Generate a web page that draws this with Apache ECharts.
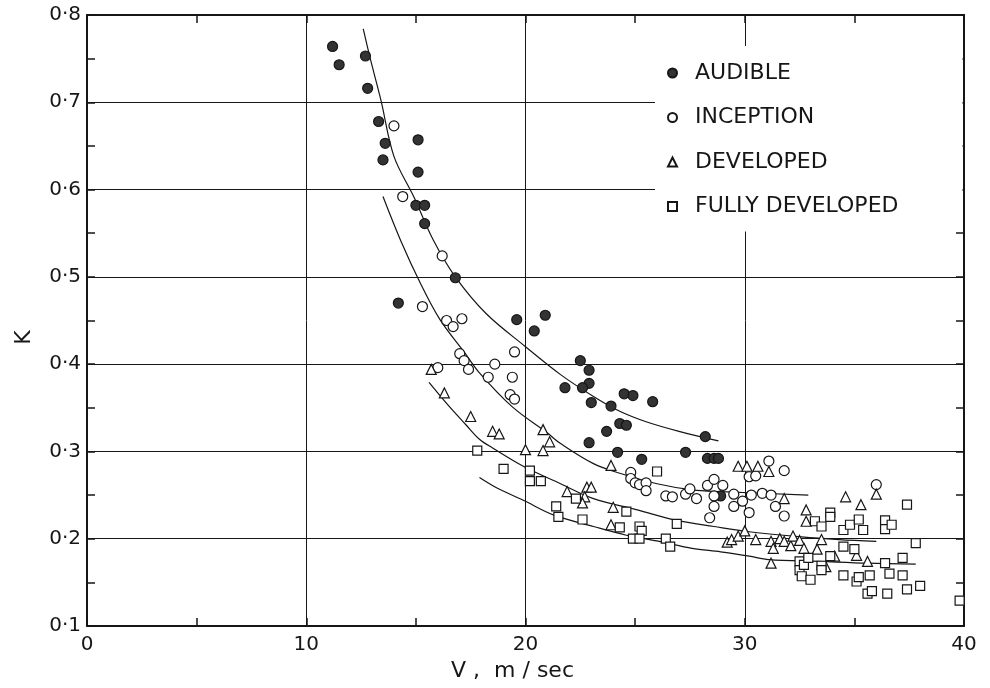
<!DOCTYPE html>
<html>
<head>
<meta charset="utf-8">
<script src="https://cdn.jsdelivr.net/npm/echarts@6/dist/echarts.min.js"></script>
<style>
  html, body { margin: 0; padding: 0; background: #fff; }
  #main { width: 990px; height: 688px; }
</style>
</head>
<body>
<div id="main"></div>
<script>
// axis ranges / tick labels
const xTicks = [0, 10, 20, 30, 40];
const yTicks = [0.1, 0.2, 0.3, 0.4, 0.5, 0.6, 0.7, 0.8];

// measured points [V (m/sec), K]
const audible = [
  [11.2, 0.764], [11.5, 0.743], [12.7, 0.753], [12.8, 0.716], [13.3, 0.678], [13.6, 0.653],
  [13.5, 0.634], [15.1, 0.657], [15.1, 0.620], [15.0, 0.582], [15.4, 0.582], [15.4, 0.561],
  [16.8, 0.499], [14.2, 0.470], [19.6, 0.451], [20.9, 0.456], [20.4, 0.438], [21.8, 0.373],
  [22.5, 0.404], [22.9, 0.393], [22.9, 0.378], [22.6, 0.373], [23.0, 0.356], [23.9, 0.352],
  [24.5, 0.366], [24.9, 0.364], [25.8, 0.357], [24.3, 0.332], [24.6, 0.330], [23.7, 0.323],
  [22.9, 0.310], [24.2, 0.299], [25.3, 0.291], [27.3, 0.299], [28.3, 0.292], [28.6, 0.292],
  [28.8, 0.292], [28.2, 0.317], [28.9, 0.249]
];
const inception = [
  [14.0, 0.673], [14.4, 0.592], [16.2, 0.524], [15.3, 0.466], [16.4, 0.450], [16.7, 0.443],
  [17.1, 0.452], [19.5, 0.414], [17.0, 0.412], [17.2, 0.404], [17.4, 0.394], [16.0, 0.396],
  [18.6, 0.400], [18.3, 0.385], [19.4, 0.385], [19.3, 0.365], [19.5, 0.360], [24.8, 0.276],
  [24.8, 0.269], [25.0, 0.264], [25.2, 0.262], [25.5, 0.264], [25.5, 0.255], [26.4, 0.249],
  [26.7, 0.248], [27.3, 0.251], [27.5, 0.257], [27.8, 0.246], [28.3, 0.261], [28.6, 0.268],
  [29.0, 0.261], [28.6, 0.249], [28.6, 0.237], [28.4, 0.224], [29.5, 0.251], [29.9, 0.243],
  [29.5, 0.237], [30.2, 0.230], [30.2, 0.271], [30.5, 0.272], [31.1, 0.289], [31.8, 0.278],
  [30.3, 0.250], [30.8, 0.252], [31.2, 0.250], [31.4, 0.237], [31.8, 0.226], [36.0, 0.262]
];
const developed = [
  [15.7, 0.394], [16.3, 0.367], [17.5, 0.340], [18.5, 0.323], [18.8, 0.320], [20.8, 0.325],
  [20.0, 0.302], [20.8, 0.301], [21.1, 0.311], [21.9, 0.254], [23.9, 0.284], [22.8, 0.259],
  [23.0, 0.259], [22.7, 0.248], [22.6, 0.241], [24.0, 0.236], [23.9, 0.216], [29.2, 0.196],
  [29.4, 0.199], [29.7, 0.203], [30.0, 0.209], [29.7, 0.283], [30.1, 0.283], [30.6, 0.283],
  [31.1, 0.277], [31.8, 0.246], [32.8, 0.233], [32.8, 0.220], [34.6, 0.248], [35.3, 0.239],
  [36.0, 0.251], [30.5, 0.199], [31.2, 0.197], [31.3, 0.189], [31.2, 0.172], [31.6, 0.200],
  [31.8, 0.197], [32.1, 0.192], [32.2, 0.203], [32.5, 0.198], [32.7, 0.189], [33.3, 0.188],
  [33.5, 0.199], [34.1, 0.180], [33.7, 0.168], [35.1, 0.181], [35.6, 0.174]
];
const fullyDeveloped = [
  [17.8, 0.301], [19.0, 0.280], [20.2, 0.278], [20.2, 0.266], [20.7, 0.266], [21.4, 0.237],
  [21.5, 0.225], [26.0, 0.277], [22.3, 0.246], [22.6, 0.222], [24.6, 0.231], [24.3, 0.213],
  [25.2, 0.214], [25.3, 0.209], [24.9, 0.200], [25.2, 0.200], [26.4, 0.200], [26.6, 0.191],
  [26.9, 0.217], [32.5, 0.174], [32.5, 0.164], [32.6, 0.157], [33.0, 0.153], [32.7, 0.170],
  [32.9, 0.178], [33.9, 0.230], [33.9, 0.225], [33.2, 0.220], [33.5, 0.214], [34.5, 0.210],
  [34.8, 0.216], [35.2, 0.222], [35.4, 0.210], [36.4, 0.221], [36.4, 0.211], [36.7, 0.216],
  [37.4, 0.239], [34.5, 0.191], [35.0, 0.188], [33.9, 0.180], [33.5, 0.169], [33.5, 0.164],
  [34.5, 0.158], [35.1, 0.151], [35.2, 0.156], [35.7, 0.158], [36.4, 0.172], [36.6, 0.160],
  [37.2, 0.178], [37.2, 0.158], [37.8, 0.195], [35.6, 0.137], [35.8, 0.140], [36.5, 0.137],
  [37.4, 0.142], [38.0, 0.146], [39.8, 0.129]
];

// hand-drawn fit curves
const curveAudible = [
  [12.6, 0.784], [12.9, 0.752], [13.4, 0.703], [14.0, 0.638], [14.9, 0.592], [15.8, 0.542],
  [16.8, 0.500], [18.2, 0.458], [20.0, 0.420], [21.6, 0.388], [23.1, 0.363], [24.3, 0.346],
  [25.5, 0.334], [27.0, 0.323], [28.8, 0.312]
];
const curveInception = [
  [13.5, 0.592], [14.3, 0.542], [15.2, 0.493], [16.1, 0.451], [17.2, 0.414], [17.9, 0.390],
  [19.4, 0.351], [21.0, 0.321], [21.6, 0.309], [23.1, 0.286], [24.3, 0.275], [26.0, 0.263],
  [27.6, 0.256], [28.9, 0.254], [32.9, 0.250]
];
const curveDeveloped = [
  [15.6, 0.379], [16.4, 0.355], [17.3, 0.330], [17.9, 0.314], [18.5, 0.304], [19.9, 0.283],
  [21.6, 0.263], [23.1, 0.246], [25.1, 0.233], [26.9, 0.221], [28.6, 0.214], [30.2, 0.208],
  [32.6, 0.202], [34.3, 0.199], [36.0, 0.197]
];
const curveFully = [
  [17.9, 0.270], [18.7, 0.258], [19.9, 0.244], [21.3, 0.227], [23.1, 0.214], [24.6, 0.204],
  [26.1, 0.197], [27.6, 0.189], [28.9, 0.185], [30.2, 0.180], [31.1, 0.176], [33.4, 0.174],
  [35.6, 0.172], [37.8, 0.171]
];

const FONT = 'DejaVu Sans';
const INK = '#161616';

const myChart = echarts.init(document.getElementById('main'));

function curve(data) {
  return {
    type: 'line',
    data: data,
    smooth: 0.35,
    symbol: 'none',
    silent: true,
    z: 2,
    lineStyle: { color: INK, width: 1.2 }
  };
}

function scatter(name, data, symbol, size, fill) {
  return {
    name: name,
    type: 'scatter',
    data: data,
    symbol: symbol,
    symbolSize: size,
    z: 3,
    itemStyle: { color: fill, borderColor: INK, borderWidth: 1.2, opacity: 1 }
  };
}

// ticks point into the plot on every side; onZero off so the right axis stays on the right
const lineOut = { show: true, onZero: false, lineStyle: { color: INK, width: 2 } };
const tickIn = { show: true, inside: true, length: 8, lineStyle: { color: INK, width: 1.5 } };
const minorIn = { show: true, splitNumber: 2, length: 8, lineStyle: { color: INK, width: 1.5 } };

const sideAxis = {
  axisLine: lineOut,
  axisTick: tickIn,
  minorTick: minorIn,
  axisLabel: { show: false },
  splitLine: { show: false }
};

const option = {
  backgroundColor: '#fff',
  animation: false,
  grid: { left: 87, right: 26, top: 15, bottom: 62 },
  legend: {
    orient: 'vertical',
    left: 655,
    top: 46,
    padding: [16, 64, 14, 12],
    backgroundColor: '#fff',
    itemWidth: 9,
    itemHeight: 9,
    itemGap: 22.5,
    data: ['AUDIBLE', 'INCEPTION', 'DEVELOPED', 'FULLY DEVELOPED'],
    textStyle: { fontFamily: FONT, fontSize: 22, color: INK, padding: [0, 0, 0, 13] }
  },
  xAxis: [
    {
      type: 'value',
      min: xTicks[0],
      max: xTicks[xTicks.length - 1],
      interval: 10,
      position: 'bottom',
      name: 'V ,  m / sec',
      nameLocation: 'middle',
      nameGap: 34,
      nameTextStyle: { fontFamily: FONT, fontSize: 22, color: INK, padding: [0, 26, 0, 0] },
      axisLine: lineOut,
      axisTick: tickIn,
      minorTick: minorIn,
      axisLabel: { fontFamily: FONT, fontSize: 20, color: INK, margin: 9 },
      splitLine: { show: true, lineStyle: { color: INK, width: 1 } }
    },
    Object.assign({
      type: 'value', min: xTicks[0], max: xTicks[xTicks.length - 1], interval: 10, position: 'top'
    }, sideAxis)
  ],
  yAxis: [
    {
      type: 'value',
      min: yTicks[0],
      max: yTicks[yTicks.length - 1],
      interval: 0.1,
      position: 'left',
      name: 'K',
      nameLocation: 'middle',
      nameGap: 52,
      nameTextStyle: { fontFamily: FONT, fontSize: 22, color: INK, padding: [0, 34, 0, 0] },
      axisLine: lineOut,
      axisTick: tickIn,
      minorTick: minorIn,
      axisLabel: {
        fontFamily: FONT, fontSize: 20, color: INK, margin: 6,
        formatter: function (v) { return v.toFixed(1).replace('.', '·'); }
      },
      splitLine: { show: true, lineStyle: { color: INK, width: 1 } }
    },
    Object.assign({
      type: 'value', min: yTicks[0], max: yTicks[yTicks.length - 1], interval: 0.1, position: 'right'
    }, sideAxis)
  ],
  series: [
    curve(curveAudible),
    curve(curveInception),
    curve(curveDeveloped),
    curve(curveFully),
    scatter('AUDIBLE', audible, 'circle', 10, '#333'),
    scatter('INCEPTION', inception, 'circle', 10, '#fff'),
    scatter('DEVELOPED', developed, 'triangle', 10, '#fff'),
    scatter('FULLY DEVELOPED', fullyDeveloped, 'rect', 9, '#fff')
  ]
};

myChart.setOption(option);
</script>
</body>
</html>
